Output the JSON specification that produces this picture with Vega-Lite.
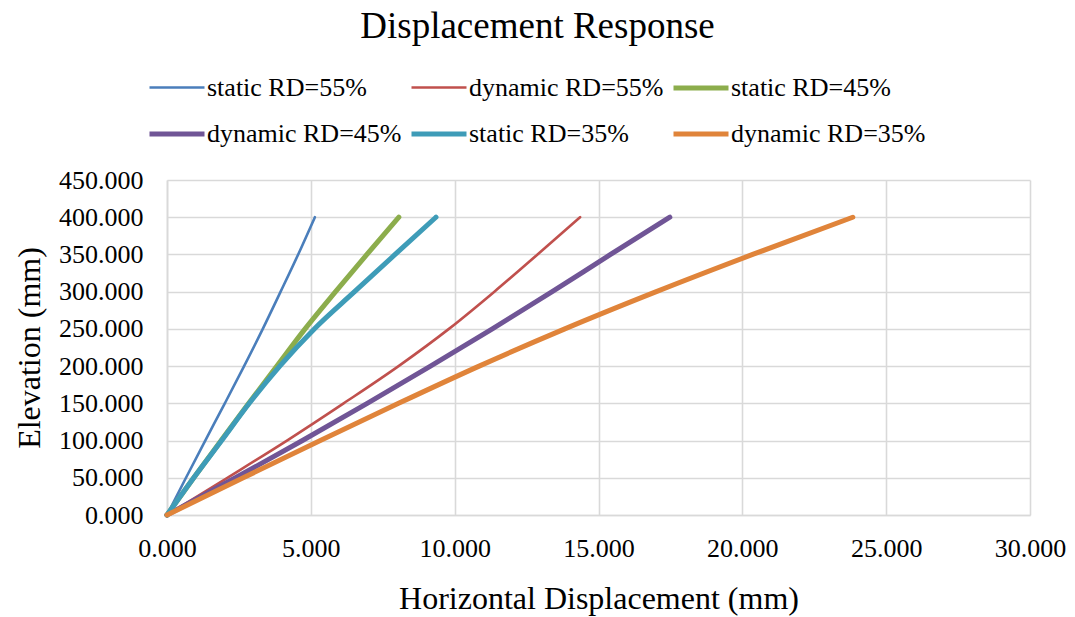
{
  "$schema": "https://vega.github.io/schema/vega-lite/v6.json",
  "width": 863,
  "height": 335,
  "autosize": {"type": "none"},
  "padding": {"left": 167, "top": 180, "right": 45, "bottom": 102},
  "background": "white",
  "title": {
    "text": "Displacement Response",
    "font": "Liberation Serif",
    "fontSize": 37,
    "fontWeight": "normal",
    "color": "#000000",
    "anchor": "middle",
    "frame": "group",
    "dx": -61,
    "offset": 12
  },
  "data": {
    "values": [
      {"series": "static RD=55%", "elev": 0, "disp": 0},
      {"series": "static RD=55%", "elev": 50, "disp": 0.66},
      {"series": "static RD=55%", "elev": 100, "disp": 1.33},
      {"series": "static RD=55%", "elev": 150, "disp": 2.01},
      {"series": "static RD=55%", "elev": 200, "disp": 2.68},
      {"series": "static RD=55%", "elev": 250, "disp": 3.33},
      {"series": "static RD=55%", "elev": 300, "disp": 3.95},
      {"series": "static RD=55%", "elev": 350, "disp": 4.56},
      {"series": "static RD=55%", "elev": 400, "disp": 5.14},
      {"series": "dynamic RD=55%", "elev": 0, "disp": 0},
      {"series": "dynamic RD=55%", "elev": 50, "disp": 2.1},
      {"series": "dynamic RD=55%", "elev": 100, "disp": 4.17},
      {"series": "dynamic RD=55%", "elev": 150, "disp": 6.14},
      {"series": "dynamic RD=55%", "elev": 200, "disp": 8.05},
      {"series": "dynamic RD=55%", "elev": 250, "disp": 9.8},
      {"series": "dynamic RD=55%", "elev": 300, "disp": 11.38},
      {"series": "dynamic RD=55%", "elev": 350, "disp": 12.88},
      {"series": "dynamic RD=55%", "elev": 400, "disp": 14.36},
      {"series": "static RD=45%", "elev": 0, "disp": 0},
      {"series": "static RD=45%", "elev": 50, "disp": 0.93},
      {"series": "static RD=45%", "elev": 100, "disp": 1.88},
      {"series": "static RD=45%", "elev": 150, "disp": 2.84},
      {"series": "static RD=45%", "elev": 200, "disp": 3.82},
      {"series": "static RD=45%", "elev": 250, "disp": 4.8},
      {"series": "static RD=45%", "elev": 300, "disp": 5.86},
      {"series": "static RD=45%", "elev": 350, "disp": 6.95},
      {"series": "static RD=45%", "elev": 400, "disp": 8.06},
      {"series": "dynamic RD=45%", "elev": 0, "disp": 0},
      {"series": "dynamic RD=45%", "elev": 50, "disp": 2.38},
      {"series": "dynamic RD=45%", "elev": 100, "disp": 4.71},
      {"series": "dynamic RD=45%", "elev": 150, "disp": 6.96},
      {"series": "dynamic RD=45%", "elev": 200, "disp": 9.16},
      {"series": "dynamic RD=45%", "elev": 250, "disp": 11.31},
      {"series": "dynamic RD=45%", "elev": 300, "disp": 13.39},
      {"series": "dynamic RD=45%", "elev": 350, "disp": 15.42},
      {"series": "dynamic RD=45%", "elev": 400, "disp": 17.48},
      {"series": "static RD=35%", "elev": 0, "disp": 0},
      {"series": "static RD=35%", "elev": 50, "disp": 0.93},
      {"series": "static RD=35%", "elev": 100, "disp": 1.9},
      {"series": "static RD=35%", "elev": 150, "disp": 2.86},
      {"series": "static RD=35%", "elev": 200, "disp": 3.92},
      {"series": "static RD=35%", "elev": 250, "disp": 5.12},
      {"series": "static RD=35%", "elev": 300, "disp": 6.52},
      {"series": "static RD=35%", "elev": 350, "disp": 7.93},
      {"series": "static RD=35%", "elev": 400, "disp": 9.35},
      {"series": "dynamic RD=35%", "elev": 0, "disp": 0},
      {"series": "dynamic RD=35%", "elev": 50, "disp": 2.65},
      {"series": "dynamic RD=35%", "elev": 100, "disp": 5.33},
      {"series": "dynamic RD=35%", "elev": 150, "disp": 8.05},
      {"series": "dynamic RD=35%", "elev": 200, "disp": 10.85},
      {"series": "dynamic RD=35%", "elev": 250, "disp": 13.83},
      {"series": "dynamic RD=35%", "elev": 300, "disp": 17.01},
      {"series": "dynamic RD=35%", "elev": 350, "disp": 20.36},
      {"series": "dynamic RD=35%", "elev": 400, "disp": 23.84}
    ]
  },
  "mark": {"type": "line", "interpolate": "monotone", "strokeCap": "round", "strokeJoin": "round"},
  "encoding": {
    "x": {
      "field": "disp",
      "type": "quantitative",
      "scale": {"domain": [0, 30], "nice": false},
      "axis": {
        "title": "Horizontal Displacement (mm)",
        "values": [0, 5, 10, 15, 20, 25, 30],
        "format": ".3f",
        "labelFlush": false,
        "labelOverlap": false,
        "labelPadding": 20,
        "titlePadding": 22
      }
    },
    "y": {
      "field": "elev",
      "type": "quantitative",
      "scale": {"domain": [0, 450], "nice": false},
      "axis": {
        "title": "Elevation (mm)",
        "values": [0, 50, 100, 150, 200, 250, 300, 350, 400, 450],
        "format": ".3f",
        "labelFlush": false,
        "labelOverlap": false,
        "labelPadding": 24,
        "titlePadding": 12
      }
    },
    "order": {"field": "elev", "type": "quantitative"},
    "color": {
      "field": "series",
      "type": "nominal",
      "scale": {
        "domain": ["static RD=55%", "dynamic RD=45%", "dynamic RD=55%", "static RD=35%", "static RD=45%", "dynamic RD=35%"],
        "range": ["#4a7ebb", "#705596", "#c0504d", "#3e9cb8", "#8cad4c", "#e0843a"]
      },
      "legend": {
        "title": null,
        "orient": "none",
        "legendX": -20,
        "legendY": -122,
        "columns": 3,
        "labelFont": "Liberation Serif"
      }
    },
    "strokeWidth": {
      "field": "series",
      "type": "nominal",
      "scale": {
        "type": "ordinal",
        "domain": ["static RD=55%", "dynamic RD=45%", "dynamic RD=55%", "static RD=35%", "static RD=45%", "dynamic RD=35%"],
        "range": [2.6, 5, 2.6, 5, 5, 5]
      },
      "legend": {
        "title": null,
        "orient": "none",
        "legendX": -20,
        "legendY": -122,
        "columns": 3,
        "labelFont": "Liberation Serif"
      }
    }
  },
  "config": {
    "font": "Liberation Serif",
    "view": {"stroke": null},
    "text": {"font": "Liberation Serif"},
    "axis": {
      "labelFont": "Liberation Serif",
      "labelFontSize": 26,
      "labelColor": "#000000",
      "titleFont": "Liberation Serif",
      "titleFontSize": 32,
      "titleFontWeight": "normal",
      "titleColor": "#000000",
      "gridColor": "#d9d9d9",
      "gridWidth": 1.6,
      "domainColor": "#d9d9d9",
      "domainWidth": 1.6,
      "ticks": false
    },
    "legend": {
      "labelFont": "Liberation Serif",
      "labelFontSize": 26,
      "labelColor": "#000000",
      "labelLimit": 400,
      "symbolType": "stroke",
      "symbolSize": 3025,
      "labelOffset": 0,
      "columnPadding": -1,
      "rowPadding": 3,
      "padding": 0
    }
  }
}
